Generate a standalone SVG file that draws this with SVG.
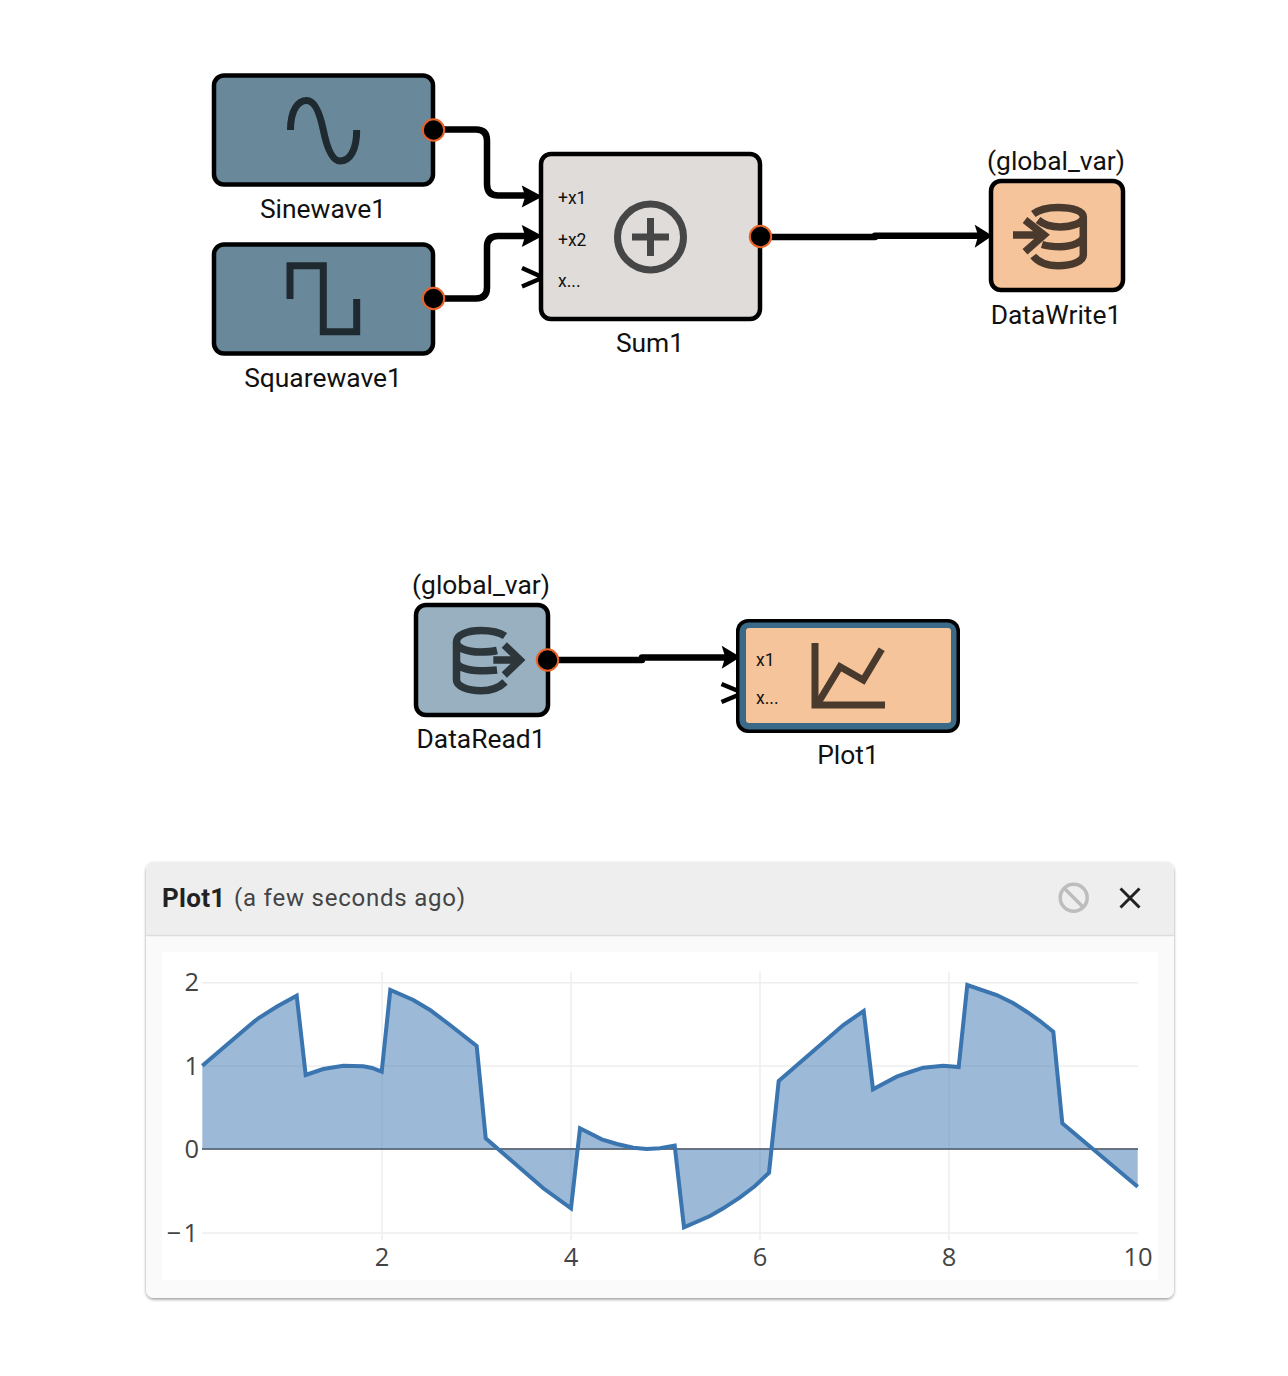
<svg xmlns="http://www.w3.org/2000/svg" width="1288" height="1376" viewBox="0 0 1288 1376">
<defs>
<style>
text{font-family:Roboto,"Liberation Sans",sans-serif;fill:#111}
.box{stroke:#000;stroke-width:4.500}
.lbl{font-size:26.400px;text-anchor:middle}
.port{font-size:17.500px}
.conn{fill:none;stroke:#000;stroke-width:6.500;stroke-linejoin:round}
.head{fill:#000;stroke:#000;stroke-width:1.500;stroke-linejoin:miter}
.open{fill:none;stroke:#000;stroke-width:4.500}
.out{fill:#000;stroke:#e8622a;stroke-width:2}
.ico{fill:none;stroke-width:7}
.db{fill:none;stroke-width:7.500}
.tick{font-family:"Open Sans","DejaVu Sans",sans-serif;font-size:25.500px;fill:#444}
.grid{stroke:#eee;stroke-width:1.500;fill:none}
</style>
<filter id="sh" x="-3%" y="-3%" width="106%" height="108%"><feDropShadow dx="0" dy="1.500" stdDeviation="1.500" flood-color="#000" flood-opacity="0.4"/></filter>
</defs>
<rect width="1288" height="1376" fill="#fff"/>
<g id="connectors">
<path class="conn" d="M444 129.500H476Q487 129.500 487 140.500V184Q487 195.500 498 195.500H530"/>
<path class="conn" d="M444 298.500H476Q487 298.500 487 287.500V247Q487 236 498 236H530"/>
<path class="conn" d="M771 237H875V235.700H980"/>
<path class="conn" d="M558 660H642V657.500H728"/>
<path class="head" d="M523 187L541 196.500L523 206L526 196.500Z"/>
<path class="head" d="M523 226.500L541 236L523 245.500L526 236Z"/>
<path class="head" d="M976 226.500L991 235.700L976 246L979 235.700Z"/>
<path class="head" d="M723 647.500L739 657L723 667L726 657Z"/>
<path class="open" d="M522 268L543 277.500L522 286.500"/>
<path class="open" d="M721.500 684L743 693L721.500 702"/>
</g>
<g id="Sinewave1">
<rect class="box" x="214" y="75.500" width="219" height="109" rx="10" fill="#69899b"/>
<path class="ico" stroke="#1f2a30" d="M290.500 130C290.500 110 298 100.500 306.700 100.500C315 100.500 320 114 323.300 130C327 148 332 161 340 161C350 161 356.700 150 356.700 130"/>
<circle class="out" cx="433.500" cy="130" r="10.700"/>
<text class="lbl" x="323" y="218">Sinewave1</text>
</g>
<g id="Squarewave1">
<rect class="box" x="214" y="244.500" width="219" height="109" rx="10" fill="#69899b"/>
<path class="ico" stroke="#1f2a30" d="M290 299V265.700H323.300V331.700H356.700V299"/>
<circle class="out" cx="433.500" cy="298.500" r="10.700"/>
<text class="lbl" x="323" y="387">Squarewave1</text>
</g>
<g id="Sum1">
<rect class="box" x="541" y="154" width="219" height="165" rx="10" fill="#dfdcd9"/>
<circle cx="650.500" cy="237" r="33" fill="none" stroke="#464646" stroke-width="7"/>
<path class="ico" stroke="#464646" d="M632 237H669M650.500 218V256"/>
<text class="port" x="558" y="204">+x1</text>
<text class="port" x="558" y="246">+x2</text>
<text class="port" x="558" y="287">x...</text>
<circle class="out" cx="760.500" cy="236.500" r="10.700"/>
<text class="lbl" x="650" y="352">Sum1</text>
</g>
<g id="DataWrite1">
<rect class="box" x="991" y="181" width="132" height="109" rx="10" fill="#f5c49b"/>
<path class="db" stroke="#4a3a2e" d="M1013 235H1042M1025 220L1044 235L1025 251.700"/>
<path class="db" stroke="#4a3a2e" d="M1033.300 214C1040 209 1048 207.500 1058 207.500C1073 207.500 1083.300 211 1083.300 217C1083.300 223 1072 227 1060 227C1051 227 1043 224 1038 220M1083.300 217V255C1083.300 261 1073 265.700 1058 265.700C1047 265.700 1038 262 1033.300 256M1083.300 236C1083.300 242 1072 246.700 1060 246.700C1053 246.700 1047 246 1042 244.500"/>
<text class="lbl" x="1056" y="170">(global_var)</text>
<text class="lbl" x="1056" y="324">DataWrite1</text>
</g>
<g id="DataRead1">
<rect class="box" x="416" y="605" width="132" height="110" rx="10" fill="#98b0bf"/>
<path class="db" stroke="#2d363b" d="M505 636C499 632 491 630.500 481 630.500C467 630.500 456.500 635 456.500 641.700C456.500 648 467 652 480 652C488 652 493 651.500 497 650.500M456.500 641.700V680C456.500 686 467 690.700 481 690.700C491 690.700 499 688 505 682M456.500 661C456.500 667 467 670.700 480 670.700C488 670.700 493 670.500 497 670"/>
<path class="db" stroke="#2d363b" d="M493.300 660H520M504.300 645L520 660L504.300 675"/>
<circle class="out" cx="547.500" cy="660" r="10.700"/>
<text class="lbl" x="481" y="594">(global_var)</text>
<text class="lbl" x="481" y="748">DataRead1</text>
</g>
<g id="Plot1">
<rect x="736" y="619" width="224" height="114" rx="12" fill="#000"/>
<rect x="739.500" y="622.500" width="217" height="107" rx="9" fill="#3b6a88"/>
<rect x="746" y="628" width="205" height="95" rx="3" fill="#f5c49b"/>
<path class="ico" stroke="#4a3a2e" d="M815 643V705H885"/>
<path class="ico" stroke="#4a3a2e" d="M818 703L840 666.700L863.300 680L881.700 649.300"/>
<text class="port" x="756" y="666">x1</text>
<text class="port" x="756" y="704">x...</text>
<text class="lbl" x="848" y="764">Plot1</text>
</g>
<g id="plot-panel">
<rect x="146" y="862" width="1028" height="436" rx="8" fill="#fafafa" filter="url(#sh)"/>
<path d="M146 935V870a8 8 0 0 1 8-8H1166a8 8 0 0 1 8 8V935Z" fill="#eee"/>
<path d="M146 935.500H1174" stroke="#ddd" stroke-width="1.500"/>
<text x="162" y="907" font-size="26" font-weight="700" letter-spacing="0.300" style="fill:#222">Plot1</text>
<text x="234" y="906" font-size="24" letter-spacing="0.780" style="fill:#444">(a few seconds ago)</text>
<g id="ban"><circle cx="1073.700" cy="897.700" r="13.500" fill="none" stroke="#bdbdbd" stroke-width="3.500"/><path d="M1064 888L1083.500 907.500" stroke="#bdbdbd" stroke-width="3.500"/></g>
<path id="close" d="M1120.500 888.500L1139.500 907.500M1139.500 888.500L1120.500 907.500" stroke="#212121" stroke-width="3"/>
<rect x="162" y="952" width="996" height="328" fill="#fff"/>
<path class="grid" d="M202 982.700H1138M202 1066H1138M202 1233H1138M382 972V1240M571 972V1240M760 972V1240M949 972V1240"/>
<path d="M202 1149H1138" stroke="#444" stroke-width="1.500"/>
<path fill="#3a75b0" fill-opacity="0.5" d="M202.300 1065.700L250 1025L258.300 1018.300L277 1006.500L296.700 995.700L305.700 1075L323.300 1069L343.300 1065.700L363.300 1066.300L372 1068L381.700 1071.700L390.300 990L413.300 1000L430 1010L450 1025L476.700 1046L485.700 1138.300L543.300 1188.300L571 1208.300L580 1128.300L601.700 1139.300L617 1144L633.300 1147.700L646.700 1149L660 1148.300L674.700 1145.700L684 1227.300L710 1216L723.300 1208.300L740 1197.300L755 1186L769 1172.700L778.700 1081L843.300 1025L863.700 1011L873 1089.300L896.700 1076.700L910 1072L923.300 1067.700L943.300 1065.700L958.700 1067L967.300 985L996.700 995L1013 1003L1026.700 1011.700L1040 1021L1053.300 1031.700L1062.300 1123.300L1137.700 1186.700V1149H202.300Z"/>
<path fill="none" stroke="#3a75b0" stroke-width="4" d="M202.300 1065.700L250 1025L258.300 1018.300L277 1006.500L296.700 995.700L305.700 1075L323.300 1069L343.300 1065.700L363.300 1066.300L372 1068L381.700 1071.700L390.300 990L413.300 1000L430 1010L450 1025L476.700 1046L485.700 1138.300L543.300 1188.300L571 1208.300L580 1128.300L601.700 1139.300L617 1144L633.300 1147.700L646.700 1149L660 1148.300L674.700 1145.700L684 1227.300L710 1216L723.300 1208.300L740 1197.300L755 1186L769 1172.700L778.700 1081L843.300 1025L863.700 1011L873 1089.300L896.700 1076.700L910 1072L923.300 1067.700L943.300 1065.700L958.700 1067L967.300 985L996.700 995L1013 1003L1026.700 1011.700L1040 1021L1053.300 1031.700L1062.300 1123.300L1137.700 1186.700"/>
<text class="tick" text-anchor="end" x="199" y="991">2</text>
<text class="tick" text-anchor="end" x="199" y="1075">1</text>
<text class="tick" text-anchor="end" x="199" y="1158">0</text>
<text class="tick" text-anchor="end" x="200" y="1242" letter-spacing="2">−1</text>
<text class="tick" text-anchor="middle" x="382" y="1266">2</text>
<text class="tick" text-anchor="middle" x="571" y="1266">4</text>
<text class="tick" text-anchor="middle" x="760" y="1266">6</text>
<text class="tick" text-anchor="middle" x="949" y="1266">8</text>
<text class="tick" text-anchor="middle" x="1138" y="1266">10</text>
</g>
</svg>
